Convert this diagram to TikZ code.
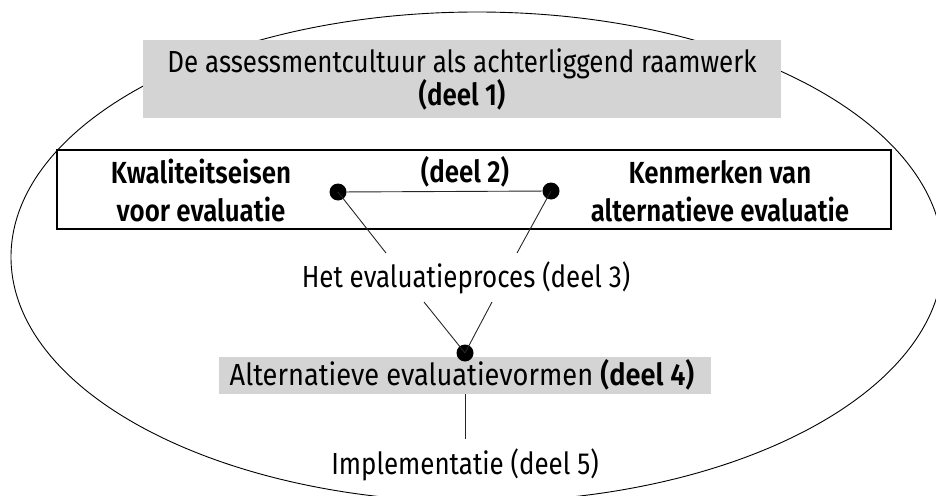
\documentclass[tikz,border=0pt]{standalone}
\usepackage{fontspec}
\setmainfont{Fira Sans}[FakeStretch=0.85, BoldFont={* SemiBold}]
\definecolor{boxgray}{HTML}{D4D4D4}
\tikzset{
  graybox/.style={fill=boxgray, draw=none, inner sep=0pt},
  framebox/.style={draw=black, line width=1.2pt, fill=white, inner sep=0pt},
  txt/.style={anchor=base, inner sep=0pt, font=\fontsize{30.5}{36}\selectfont},
  dot/.style={circle, fill=black, inner sep=0pt, minimum size=17pt},
  link/.style={line width=0.9pt, black!85}
}
\begin{document}
\begin{tikzpicture}[x=1pt, y=-1pt]
\useasboundingbox (0,0) rectangle (936,495);
\clip (0,0) rectangle (936,495);
% outer ellipse
\draw[line width=0.9pt] (477,257) ellipse [x radius=466pt, y radius=245pt];
% boxes
\node[graybox, minimum width=638pt, minimum height=78pt] (b1) at (462,79) {};
\node[framebox, minimum width=834pt, minimum height=79pt] (b2) at (474,189.5) {};
\node[graybox, minimum width=492pt, minimum height=37pt] (b4) at (465,375.5) {};
% texts
\node[txt] (t1a) at (462,72) {De assessmentcultuur als achterliggend raamwerk};
\node[txt] (t1b) at (462,105) {\bfseries (deel 1)};
\node[txt] (kw1) at (201,183) {\bfseries Kwaliteitseisen};
\node[txt] (kw2) at (201,221) {\bfseries voor evaluatie};
\node[txt] (d2) at (465,182) {\bfseries (deel 2)};
\node[txt] (ke1) at (720,183) {\bfseries Kenmerken van};
\node[txt] (ke2) at (720,221) {\bfseries alternatieve evaluatie};
\node[txt] (t3) at (466,287) {Het evaluatieproces (deel 3)};
\node[txt] (t4) at (462,385) {\scalebox{1.05}[1]{Alternatieve evaluatievormen \textbf{(deel 4)}}};
\node[txt] (t5) at (465,474) {Implementatie (deel 5)};
% dots
\node[dot] (pl) at (338,192) {};
\node[dot] (pr) at (551,191) {};
\node[dot] (pb) at (465,353) {};
% free ends
\coordinate (el) at (386,253);
\coordinate (er) at (517,253);
\coordinate (ul) at (424,302);
\coordinate (ur) at (492,302);
\coordinate (v1) at (465,394);
\coordinate (v2) at (465,439);
% connectors
\draw[link] (pl) -- (pr);
\draw[link] (pl.center) -- (el);
\draw[link] (pr.center) -- (er);
\draw[link] (ul) -- (pb.center);
\draw[link] (ur) -- (pb.center);
\draw[link] (v1) -- (v2);
\end{tikzpicture}
\end{document}
